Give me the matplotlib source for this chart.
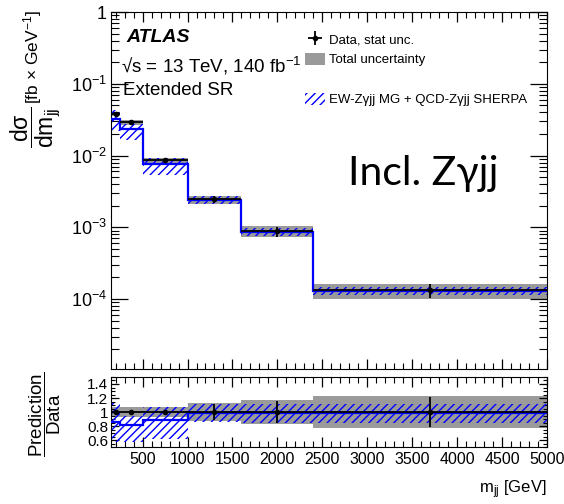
import numpy as np
import matplotlib
matplotlib.use("Agg")
import matplotlib.pyplot as plt
from matplotlib.patches import Patch
from matplotlib.ticker import MultipleLocator, LogLocator, FuncFormatter, NullFormatter

plt.rcParams['font.family'] = ['Liberation Sans', 'DejaVu Sans']
plt.rcParams['mathtext.fontset'] = 'custom'
plt.rcParams['mathtext.rm'] = 'Liberation Sans'
plt.rcParams['mathtext.it'] = 'Liberation Sans:italic'
plt.rcParams['mathtext.bf'] = 'Liberation Sans:bold'
plt.rcParams['hatch.linewidth'] = 1.0

# bins in m_jj [GeV]
bin_edges = [150, 250, 500, 1000, 1600, 2400, 5000]
# measured dsigma/dmjj [fb/GeV]
data_xsec = [0.038, 0.029, 0.0086, 0.00245, 0.00088, 0.000132]
data_stat_rel = [0.03, 0.03, 0.03, 0.12, 0.16, 0.22]
data_total_rel = [0.07, 0.07, 0.07, 0.13, 0.17, 0.23]
# prediction / data and its uncertainty band (in ratio units)
pred_ratio = [0.86, 0.81, 0.89, 0.985, 0.985, 0.985]
pred_ratio_lo = [0.57, 0.57, 0.62, 0.86, 0.85, 0.85]
pred_ratio_hi = [1.13, 0.94, 1.07, 1.11, 1.12, 1.12]

edges = np.array(bin_edges, float)
lefts = edges[:-1]
widths = np.diff(edges)
centers = lefts + widths / 2
data = np.array(data_xsec)
stat = np.array(data_stat_rel)
tot = np.array(data_total_rel)
ratio = np.array(pred_ratio)
r_lo = np.array(pred_ratio_lo)
r_hi = np.array(pred_ratio_hi)
pred = data * ratio

blue = '#0000ff'
grey = '#9a9a9a'

fig = plt.figure(figsize=(5.64, 5.04), dpi=100)
ax = fig.add_axes([0.197, 0.268, 0.773, 0.708])
rax = fig.add_axes([0.197, 0.113, 0.773, 0.139])

# ---- main panel
ax.bar(lefts, 2 * tot * data, width=widths, bottom=data * (1 - tot), align='edge',
       color=grey, linewidth=0, zorder=1)
ax.bar(lefts, data * (r_hi - r_lo), width=widths, bottom=data * r_lo, align='edge',
       fill=False, hatch='////', edgecolor=blue, linewidth=0, zorder=2)
ax.stairs(pred, edges, baseline=None, color=blue, linewidth=1.6, zorder=3)
data_handle = ax.errorbar(centers, data, xerr=widths / 2, yerr=stat * data, fmt='o',
                          ms=3, color='black', elinewidth=1.3, capsize=0, zorder=4)

ax.set_yscale('log')
ax.set_xlim(150, 5000)
ax.set_ylim(1.06e-5, 1)
ax.xaxis.set_major_locator(MultipleLocator(500))
ax.xaxis.set_minor_locator(MultipleLocator(100))
ax.xaxis.set_major_formatter(NullFormatter())
ax.yaxis.set_major_locator(LogLocator(base=10, numticks=10))
ax.yaxis.set_minor_locator(LogLocator(base=10, subs=np.arange(2, 10), numticks=20))
ax.yaxis.set_minor_formatter(NullFormatter())


def log_fmt(v, pos):
    e = int(round(np.log10(v)))
    return '1' if e == 0 else r'$10^{%d}$' % e


ax.yaxis.set_major_formatter(FuncFormatter(log_fmt))
ax.tick_params(axis='both', which='both', direction='in', top=True, right=True, labelsize=13)
ax.tick_params(axis='y', which='major', length=12, width=0.9, pad=3)
ax.tick_params(axis='y', which='minor', length=6, width=0.8)
ax.tick_params(axis='x', which='major', length=7, width=0.9)
ax.tick_params(axis='x', which='minor', length=4, width=0.8)

# y title: fraction + units, ROOT style, aligned to the top of the axis
fig.text(33 / 564, 1 - 10 / 504, '[fb $\\times$ GeV$^{-1}$]', rotation=90,
         ha='center', va='top', fontsize=12.5)
fig.text(35 / 564, 1 - 127 / 504, r'$\dfrac{\mathrm{d\sigma}}{\mathrm{dm_{jj}}}$',
         rotation=90, ha='center', va='center', fontsize=16.5)

ax.text(0.034, 0.928, 'ATLAS', transform=ax.transAxes, fontsize=14,
        fontweight='bold', fontstyle='italic', va='center')
ax.text(0.022, 0.85, '√s = 13 TeV, 140 fb$^{-1}$', transform=ax.transAxes,
        fontsize=13.5, va='center')
ax.text(0.028, 0.781, 'Extended SR', transform=ax.transAxes, fontsize=13.5, va='center')

ax.text(348 / 564, 1 - 185 / 504, 'Incl. Z\u03b3jj', transform=fig.transFigure,
        fontsize=29.5, family=['Lato', 'Open Sans', 'DejaVu Sans'], va='baseline')

handles = [data_handle,
           Patch(facecolor=grey, edgecolor='none'),
           Patch(facecolor='none', edgecolor='none'),
           Patch(facecolor='none', edgecolor=blue, hatch='////', linewidth=0)]
labels = ['Data, stat unc.', 'Total uncertainty', '', 'EW-Z\u03b3jj MG + QCD-Z\u03b3jj SHERPA']
ax.legend(handles, labels, loc='upper left', bbox_to_anchor=(0.445, 0.942), frameon=False,
          fontsize=9.5, handlelength=1.5, handleheight=1.0, handletextpad=0.3,
          labelspacing=0.5, borderaxespad=0, borderpad=0)

# ---- ratio panel
rax.bar(lefts, 2 * tot, width=widths, bottom=1 - tot, align='edge',
        color=grey, linewidth=0, zorder=1)
rax.bar(lefts, r_hi - r_lo, width=widths, bottom=r_lo, align='edge',
        fill=False, hatch='////', edgecolor=blue, linewidth=0, zorder=2)
rax.stairs(ratio, edges, baseline=None, color=blue, linewidth=1.6, zorder=3)
rax.errorbar(centers, np.ones_like(centers), xerr=widths / 2, yerr=stat, fmt='o',
             ms=3, color='black', elinewidth=1.3, capsize=0, zorder=4)

rax.set_xlim(150, 5000)
rax.set_ylim(0.5, 1.5)
rax.xaxis.set_major_locator(MultipleLocator(500))
rax.xaxis.set_minor_locator(MultipleLocator(100))
rax.yaxis.set_major_locator(MultipleLocator(0.2))
rax.yaxis.set_minor_locator(MultipleLocator(0.05))
rax.yaxis.set_major_formatter(FuncFormatter(lambda v, p: ('%g' % round(v, 2)) if 0.55 < v < 1.45 else ''))
rax.tick_params(axis='both', which='both', direction='in', top=True, right=True, labelsize=11.5)
rax.tick_params(axis='y', which='major', length=6, width=0.9, pad=2, labelsize=11)
rax.tick_params(axis='y', which='minor', length=3, width=0.8)
rax.tick_params(axis='x', which='major', length=7, width=0.9)
rax.tick_params(axis='x', which='minor', length=4, width=0.8)

rax.set_ylabel(r'$\dfrac{\mathrm{Prediction}}{\mathrm{Data}}$', fontsize=13.5)
rax.yaxis.set_label_coords(-0.11, 0.47)

fig.text(547 / 564, 1 - 490 / 504, r'm$_{\mathrm{jj}}$ [GeV]', ha='right', va='center', fontsize=12)

fig.savefig('out.png', dpi=100)
